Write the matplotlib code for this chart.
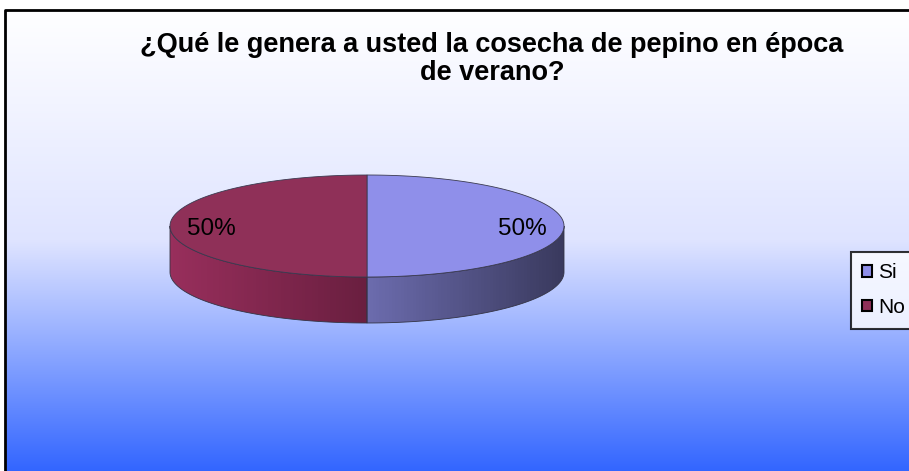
import numpy as np
import matplotlib
matplotlib.use('Agg')
import matplotlib.pyplot as plt
from matplotlib.patches import Polygon, Patch
from matplotlib.colors import LinearSegmentedColormap

# data
categories = ['Si', 'No']
values = [50, 50]
top_colors = ['#8f8fea', '#8f3058']
side_colors = [('#6c6cae', '#3a3a5e'), ('#982f5c', '#6a1f40')]
title = '¿Qué le genera a usted la cosecha de pepino en época\nde verano?'

W, H = 909, 471
fig = plt.figure(figsize=(W / 100, H / 100), dpi=100)
ax = fig.add_axes([0, 0, 1, 1])
ax.set_xlim(0, W)
ax.set_ylim(H, 0)
ax.axis('off')

# background gradient, white at top to blue at bottom
bg = LinearSegmentedColormap.from_list('bg', ['#ffffff', '#dfe4ff', '#3366ff'], N=256)
grad = np.linspace(0, 1, 256).reshape(-1, 1)
ax.imshow(grad, cmap=bg, extent=[5, W, H, 10], aspect='auto', zorder=0)
ax.plot([5, 5, W], [H, 10, 10], color='black', lw=2, zorder=1, solid_capstyle='projecting')

# 3D pie geometry
cx, cy, rx, ry, depth = 367, 226, 197, 51, 46


def pt(t, dy=0.0):
    return cx + rx * np.cos(t), cy - ry * np.sin(t) + dy


frac = np.array(values, dtype=float) / sum(values)
start = np.pi / 2
angles = []
for f in frac:
    end = start - 2 * np.pi * f
    angles.append((start, end))
    start = end

# sides (front half only, sin < 0)
for (a0, a1), (c0, c1) in zip(angles, side_colors):
    lo, hi = min(a0, a1), max(a0, a1)
    for shift in (0, 2 * np.pi, -2 * np.pi):
        s0, s1 = max(lo + shift, -np.pi), min(hi + shift, 0)
        if s1 <= s0:
            continue
        t = np.linspace(s0, s1, 120)
        xt, yt = pt(t)
        xb, yb = pt(t[::-1], depth)
        verts = np.column_stack([np.r_[xt, xb], np.r_[yt, yb]])
        poly = Polygon(verts, closed=True, facecolor='none', edgecolor='#333344', lw=0.6, zorder=3)
        ax.add_patch(poly)
        cm = LinearSegmentedColormap.from_list('s', [c0, c1])
        im = ax.imshow(np.linspace(0, 1, 64).reshape(1, -1), cmap=cm,
                       extent=[xt.min(), xt.max(), cy + ry + depth, cy - ry],
                       aspect='auto', zorder=2)
        im.set_clip_path(poly)

# top faces
for (a0, a1), col in zip(angles, top_colors):
    t = np.linspace(a0, a1, 200)
    x, y = pt(t)
    verts = np.column_stack([np.r_[cx, x], np.r_[cy, y]])
    ax.add_patch(Polygon(verts, closed=True, facecolor=col, edgecolor='#3a3a50', lw=0.6, zorder=4))

# percentage labels
for (a0, a1), v in zip(angles, values):
    m = (a0 + a1) / 2
    x, y = cx + 0.79 * rx * np.cos(m), cy - 0.05 * ry * np.sin(m) + 3
    ax.text(x, y, f'{v / sum(values):.0%}', ha='center', va='center', fontsize=17.5,
            family='Liberation Sans', zorder=5)

fig.text(492 / W, 1 - 59 / H, title, ha='center', va='center', fontsize=19.5,
         fontweight='bold', family='Liberation Sans', linespacing=1.12)

handles = [Patch(facecolor=c, edgecolor='black', lw=1.5) for c in top_colors]
leg = ax.legend(handles, categories, loc='upper left', bbox_to_anchor=(851 / W, 1 - 252 / H),
                bbox_transform=fig.transFigure, frameon=True, fancybox=False,
                prop={'family': 'Liberation Sans', 'size': 15},
                handlelength=0.45, handleheight=0.45, handletextpad=0.3,
                labelspacing=0.75, borderpad=0.55, borderaxespad=0)
leg.get_frame().set_edgecolor('black')
leg.get_frame().set_linewidth(1.5)
leg.get_frame().set_facecolor('white')

fig.savefig('out.png', dpi=100)
